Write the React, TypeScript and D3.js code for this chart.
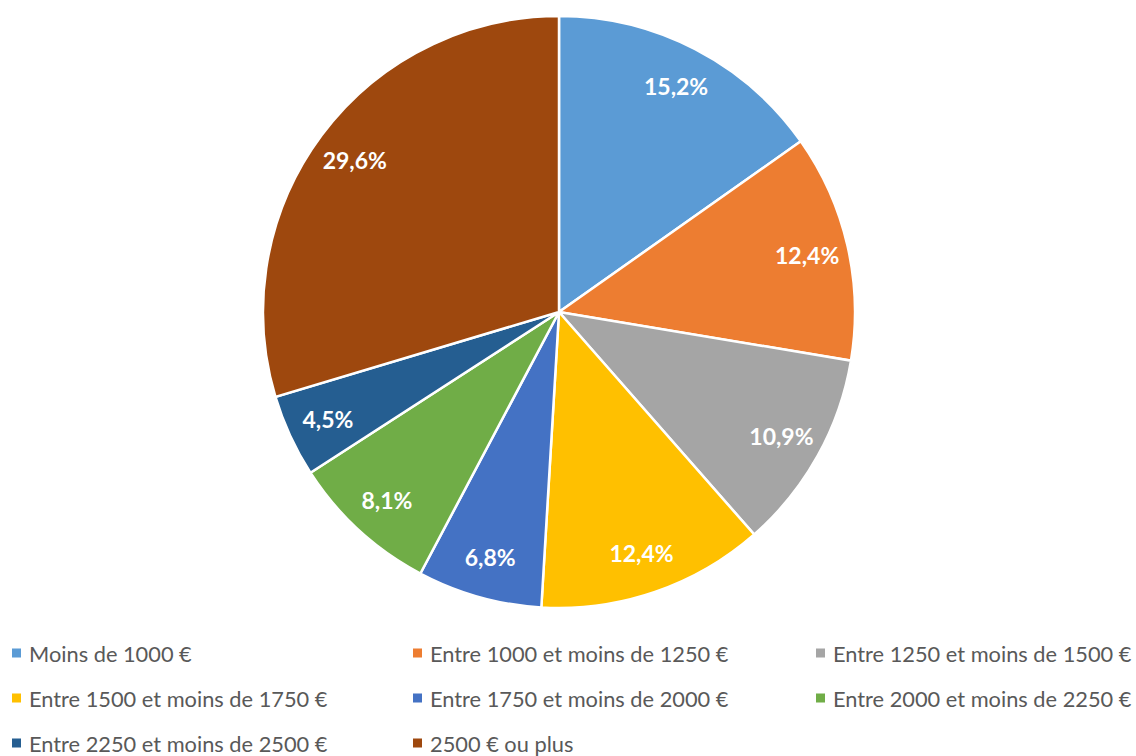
import React from "react";
import * as d3 from "d3";

const categories = [
  "Moins de 1000 €",
  "Entre 1000 et moins de 1250 €",
  "Entre 1250 et moins de 1500 €",
  "Entre 1500 et moins de 1750 €",
  "Entre 1750 et moins de 2000 €",
  "Entre 2000 et moins de 2250 €",
  "Entre 2250 et moins de 2500 €",
  "2500 € ou plus",
];
const values = [15.2, 12.4, 10.9, 12.4, 6.8, 8.1, 4.5, 29.6];
const colors = ["#5B9BD5", "#ED7D31", "#A5A5A5", "#FFC000", "#4472C4", "#70AD47", "#255E91", "#9E480E"];

const W = 1136;
const H = 756;
const cx = 559;
const cy = 312;
const R = 296;

export default function App() {
  const pie = d3.pie<number>().sort(null).value((d) => d);
  const arcs = pie(values);
  const arc = d3.arc<d3.PieArcDatum<number>>().innerRadius(0).outerRadius(R);
  const labelArc = d3.arc<d3.PieArcDatum<number>>().innerRadius(R * 0.86).outerRadius(R * 0.86);
  const fmt = (v: number) => v.toFixed(1).replace(".", ",") + "%";

  // legend grid: 3 columns
  const colX = d3.scaleOrdinal<number, number>().domain([0, 1, 2]).range([12, 413, 816]);
  const rowY = d3.scaleLinear().domain([0, 2]).range([653, 743]);

  return (
    <svg width={W} height={H} style={{ position: "absolute", left: 0, top: 0 }}>
      <rect width={W} height={H} fill="#fff" />
      <g transform={`translate(${cx},${cy})`}>
        {arcs.map((a, i) => (
          <path key={i} d={arc(a) || ""} fill={colors[i]} stroke="#fff" strokeWidth={2.5} />
        ))}
        {arcs.map((a, i) => {
          const [x, y] = labelArc.centroid(a);
          return (
            <text
              key={"l" + i}
              x={x}
              y={y}
              textAnchor="middle"
              dominantBaseline="central"
              fill="#fff"
              fontFamily="Lato, 'Open Sans', sans-serif"
              fontWeight="bold"
              fontSize={23}
            >
              {fmt(values[i])}
            </text>
          );
        })}
      </g>
      {categories.map((c, i) => {
        const x = colX(i % 3);
        const y = rowY(Math.floor(i / 3));
        return (
          <g key={"g" + i}>
            <rect x={x} y={y - 4.5} width={9} height={9} fill={colors[i]} />
            <text
              x={x + 17}
              y={y}
              dominantBaseline="central"
              fill="#595959"
              fontFamily="Lato, 'Open Sans', sans-serif"
              fontSize={21.8}
            >
              {c}
            </text>
          </g>
        );
      })}
    </svg>
  );
}
